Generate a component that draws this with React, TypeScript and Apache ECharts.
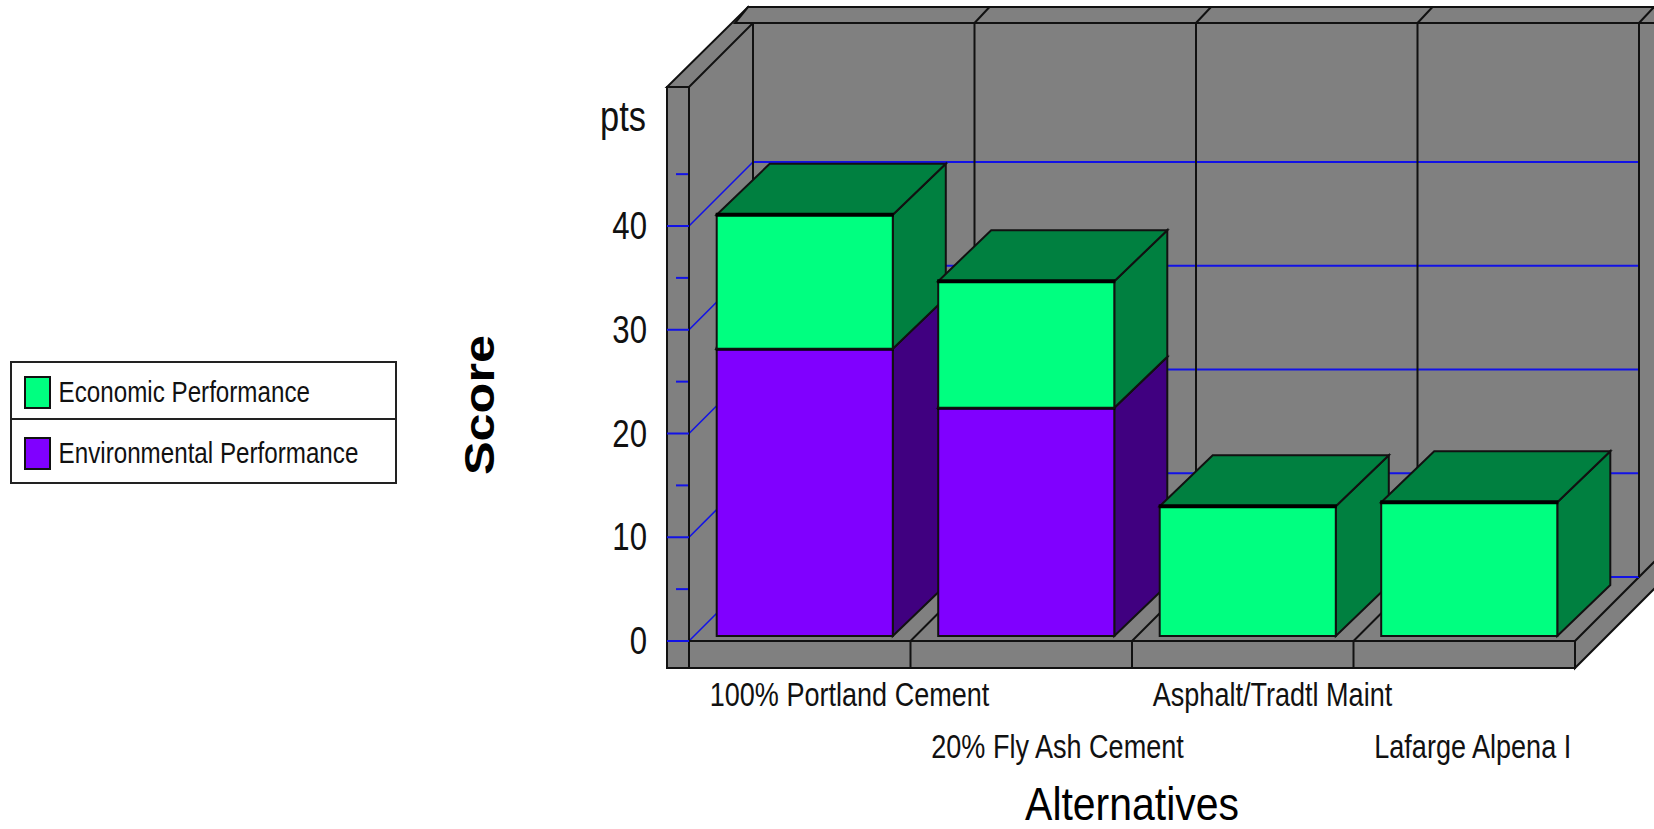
import React, { useEffect, useRef } from "react";
import * as echarts from "echarts";

// Scores by alternative
const categories = ["100% Portland Cement", "20% Fly Ash Cement", "Asphalt/Tradtl Maint", "Lafarge Alpena I"];
const environmental = [27.7, 22.0, 0, 0];
const economic = [12.9, 12.2, 12.5, 12.9];
const majorTicks = [0, 10, 20, 30, 40];
const minorTicks = [5, 15, 25, 35, 45];

const FONT = "'Liberation Sans', Arial, sans-serif";
const CONDENSE = 0.82;
const CONDENSE_TITLE = 0.89;
const INK = "#111";
const WALL = "#808080";
const RULE = "#111";
const GRIDLINE = "#1212e6";

// Pseudo-3D chamber geometry, in pixels relative to the plot rectangle
const WALL_DEPTH = 64;
const SLAB_LEFT = 22;
const SLAB_BOTTOM = 27;
const OUTER_DEPTH = 81;
const BAR_INSET = 5;
const BAR_RATIO = 0.795;
const BAR_DX = 53;
const BAR_DY = 51;

const poly = (points: number[][], fill: string, lineWidth = 2, stroke = RULE) => ({
  type: "polygon",
  shape: { points },
  style: { fill, stroke, lineWidth },
});
const seg = (x1: number, y1: number, x2: number, y2: number, stroke = RULE, lineWidth = 2) => ({
  type: "line",
  shape: { x1, y1, x2, y2 },
  style: { stroke, lineWidth },
});

// Back wall, side wall, floor and outer slabs with their gridlines
function renderChamber(params: any, api: any) {
  const cs = params.coordSys;
  const L = cs.x;
  const R = cs.x + cs.width;
  const T = cs.y;
  const B = cs.y + cs.height;
  const D = WALL_DEPTH;
  const E = OUTER_DEPTH;
  const S = cs.width / categories.length;
  const far = 1660;
  const drop = far - R;
  const c: any[] = [];

  c.push(poly([[L + D, T - D], [far, T - D], [far, B - drop], [R + D, B - D], [L + D, B - D]], WALL, 0, WALL));
  c.push(poly([[L, T], [L + D, T - D], [L + D, B - D], [L, B]], WALL, 0, WALL));
  c.push(poly([[L, B], [R, B], [R + D, B - D], [L + D, B - D]], WALL, 0, WALL));
  c.push(poly([[R, B], [R, B + SLAB_BOTTOM], [far, B + SLAB_BOTTOM - drop], [far, B - drop]], WALL));

  // Gridlines: tick on the slab, run up the side wall, run across the back wall
  for (const v of majorTicks) {
    const y = api.coord([0, v])[1];
    c.push(seg(L, y, L + D, y - D, GRIDLINE, 1.6));
    c.push(seg(L + D, y - D, R + D, y - D, GRIDLINE, 2));
  }

  // Back wall and floor dividers
  for (let i = 0; i <= categories.length; i++) {
    const x = L + S * i;
    c.push(seg(x + D, T - D, x + D, B - D));
    if (i > 0 && i < categories.length) c.push(seg(x, B, x + D, B - D));
  }

  // Top rim of the back wall
  c.push(poly([[L - SLAB_LEFT, T], [L, T], [L + D, T - D], [L - SLAB_LEFT + E, T - E + 1]], WALL));
  c.push(poly([[L + D - 18, T - D], [L - SLAB_LEFT + E, T - E + 1], [far, T - E + 1], [far, T - D]], WALL));
  for (let i = 1; i <= categories.length; i++) {
    const x = L + D + S * i;
    c.push(seg(x, T - D, x + 15, T - E + 1));
  }

  // Left slab and front slab
  c.push(poly([[L - SLAB_LEFT, T], [L, T], [L, B + SLAB_BOTTOM], [L - SLAB_LEFT, B + SLAB_BOTTOM]], WALL));
  c.push(poly([[L, B], [R, B], [R, B + SLAB_BOTTOM], [L, B + SLAB_BOTTOM]], WALL));
  for (let i = 1; i < categories.length; i++) {
    c.push(seg(L + S * i, B, L + S * i, B + SLAB_BOTTOM));
  }
  for (const v of majorTicks) {
    const y = api.coord([0, v])[1];
    c.push(seg(L - SLAB_LEFT, y, L, y, GRIDLINE, 2));
  }
  for (const v of minorTicks) {
    const y = api.coord([0, v])[1];
    c.push(seg(L - 13, y, L - 1, y, GRIDLINE, 2));
  }
  return { type: "group", children: c };
}

// One extruded bar segment: [category index, base value, top value]
const renderSegment = (front: string, shade: string) => (params: any, api: any) => {
  const base = api.value(1);
  const top = api.value(2);
  if (top <= base) return { type: "group", children: [] };
  const [cx, y0] = api.coord([api.value(0), base]);
  const y1 = api.coord([api.value(0), top])[1];
  const w = api.size([1, 0])[0] * BAR_RATIO;
  const x0 = cx + BAR_INSET - w / 2;
  const x1 = x0 + w;
  const yb = y0 - BAR_INSET;
  const yt = y1 - BAR_INSET;
  return {
    type: "group",
    children: [
      poly([[x1, yb], [x1 + BAR_DX, yb - BAR_DY], [x1 + BAR_DX, yt - BAR_DY], [x1, yt]], shade),
      poly([[x0, yt], [x0 + BAR_DX, yt - BAR_DY], [x1 + BAR_DX, yt - BAR_DY], [x1, yt]], shade),
      poly([[x0, yb], [x1, yb], [x1, yt], [x0, yt]], front),
      seg(x0 - 1, yt, x1 + 1, yt, "#000", 4),
    ],
  };
};

const environmentalData = categories.map((_, i) => [i, 0, environmental[i]]);
const economicData = categories.map((_, i) => [i, environmental[i], environmental[i] + economic[i]]);

export default function App() {
  const ref = useRef<HTMLDivElement>(null);

  useEffect(() => {
    const chart = echarts.init(ref.current!, undefined, { renderer: "svg" });
    chart.setOption({
      animation: false,
      backgroundColor: "#fff",
      grid: [
        { left: 689, top: 87, width: 886, height: 554, outerBoundsMode: "none" },
        // Holds the staggered category labels, set off so they start near each band's left edge
        { left: 599, top: 87, width: 886, height: 554, outerBoundsMode: "none" },
      ],
      legend: {
        orient: "vertical",
        left: 10,
        top: 361,
        data: ["Economic Performance", "Environmental Performance"],
        icon: "rect",
        itemWidth: 25,
        itemHeight: 31,
        itemGap: 28,
        padding: [15, 0, 15, 14],
        selectedMode: false,
        itemStyle: { borderColor: "#111", borderWidth: 2 },
        textStyle: { fontFamily: FONT, fontSize: 29.5, color: INK, padding: [0, 0, 0, 11] },
      },
      xAxis: [
        {
          gridIndex: 0,
          type: "category",
          data: categories,
          name: "Alternatives",
          nameLocation: "middle",
          nameGap: 140,
          nameTextStyle: { fontFamily: FONT, fontSize: 46, color: "#000" },
          axisLine: { show: false },
          axisTick: { show: false },
          axisLabel: { show: false },
        },
        {
          gridIndex: 1,
          type: "category",
          data: categories,
          axisLine: { show: false },
          axisTick: { show: false },
          axisLabel: {
            interval: 0,
            align: "left",
            margin: 28,
            lineHeight: 52,
            verticalAlign: "top",
            hideOverlap: false,
            fontFamily: FONT,
            fontSize: 33,
            color: INK,
            formatter: (value: string, index: number) => (index % 2 ? "\n" + value : value),
          },
        },
      ],
      yAxis: [
        {
          gridIndex: 0,
          type: "value",
          min: 0,
          max: 53.4,
          splitLine: { show: false },
          axisLine: { show: false },
          axisTick: { show: false },
          axisLabel: {
            customValues: majorTicks,
            margin: 42,
            fontFamily: FONT,
            fontSize: 38,
            color: INK,
          },
        },
        { gridIndex: 1, type: "value", min: 0, max: 53.4, show: false },
      ],
      series: [
        {
          type: "custom",
          name: "Chamber",
          silent: true,
          renderItem: renderChamber,
          data: [[0, 0]],
          z: 1,
        },
        {
          type: "custom",
          name: "Environmental Performance",
          silent: true,
          renderItem: renderSegment("#8000ff", "#400080"),
          encode: { x: 0, y: [1, 2] },
          itemStyle: { color: "#8000ff" },
          data: environmentalData,
          z: 2,
        },
        {
          type: "custom",
          name: "Economic Performance",
          silent: true,
          renderItem: renderSegment("#00ff80", "#008040"),
          encode: { x: 0, y: [1, 2] },
          itemStyle: { color: "#00ff80" },
          data: economicData,
          z: 3,
        },
      ],
      graphic: [
        {
          type: "text",
          x: 600,
          y: 116,
          style: { text: "pts", font: `42px ${FONT}`, fill: INK, verticalAlign: "middle" },
        },
        {
          type: "text",
          x: 480,
          y: 405,
          rotation: Math.PI / 2,
          scaleX: 1.2,
          style: {
            text: "Score",
            font: `bold 42px ${FONT}`,
            fill: "#000",
            align: "center",
            verticalAlign: "middle",
          },
        },
        // Legend frame with a rule between its two rows
        {
          type: "rect",
          shape: { x: 11, y: 362, width: 385, height: 121 },
          style: { fill: "none", stroke: "#222", lineWidth: 2 },
        },
        { type: "line", shape: { x1: 11, y1: 419, x2: 396, y2: 419 }, style: { stroke: "#222", lineWidth: 2 } },
      ],
    });

    // Every regular-weight text is set condensed, pivoting on its own anchor point
    const zr: any = chart.getZr();
    zr.storage.traverse((el: any) => {
      if (el.type === "text" && el.style?.text !== "Score") {
        el.scaleX = el.style?.text === "Alternatives" ? CONDENSE_TITLE : CONDENSE;
        el.markRedraw();
      }
    });
    zr.refreshImmediately();

    return () => chart.dispose();
  }, []);

  return <div ref={ref} style={{ position: "fixed", left: 0, top: 0, width: 1654, height: 829 }} />;
}
